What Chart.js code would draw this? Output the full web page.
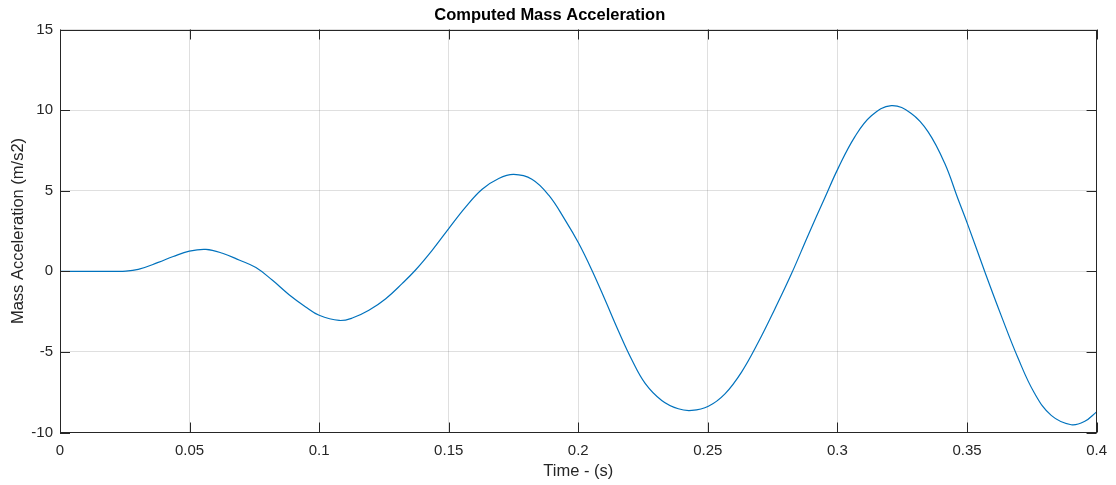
<!DOCTYPE html>
<html>
<head>
<meta charset="utf-8">
<title>Computed Mass Acceleration</title>
<script src="https://cdn.jsdelivr.net/npm/chart.js@4/dist/chart.umd.min.js"></script>
<style>
  html, body { margin: 0; padding: 0; background: #ffffff; }
  #wrap { width: 1116px; height: 485px; position: relative; }
</style>
</head>
<body>
<div id="wrap"><canvas id="chart" width="1116" height="485"></canvas></div>
<script>
// Sample times (s)
const timeS = [
  0, 0.01, 0.02, 0.0242, 0.0302, 0.0379, 0.0437, 0.0499, 0.0563, 0.0627,
  0.0691, 0.0756, 0.082, 0.0884, 0.0948, 0.1, 0.1077, 0.1128, 0.1192, 0.1257,
  0.1321, 0.1372, 0.1436, 0.15, 0.1565, 0.1629, 0.1693, 0.1751, 0.1821, 0.1886,
  0.195, 0.2001, 0.2053, 0.2104, 0.2155, 0.2207, 0.2258, 0.2322, 0.2386, 0.2438,
  0.2502, 0.2566, 0.263, 0.2695, 0.2759, 0.2823, 0.2887, 0.2951, 0.3003, 0.3067,
  0.3131, 0.3208, 0.3285, 0.335, 0.3414, 0.3465, 0.3504, 0.3568, 0.3632, 0.3696,
  0.376, 0.3825, 0.3902, 0.3953, 0.4
];
// Mass acceleration (m/s2)
const accel = [
  0, 0, 0, 0, 0.12, 0.55, 0.92, 1.25, 1.36, 1.12,
  0.70, 0.23, -0.56, -1.45, -2.21, -2.73, -3.05, -2.90, -2.42, -1.70,
  -0.75, 0.08, 1.30, 2.65, 3.98, 5.09, 5.76, 6.01, 5.71, 4.72,
  3.16, 1.75, 0.05, -1.80, -3.70, -5.50, -6.95, -8.01, -8.53, -8.63,
  -8.37, -7.6, -6.25, -4.39, -2.32, -0.14, 2.24, 4.55, 6.40, 8.34,
  9.65, 10.28, 9.79, 8.65, 6.70, 4.50, 2.85, 0.0, -2.75, -5.35,
  -7.55, -8.94, -9.52, -9.32, -8.72
];
// Axis ticks
const xTickValues = [0, 0.05, 0.1, 0.15, 0.2, 0.25, 0.3, 0.35, 0.4];
const xTickLabels = ['0', '0.05', '0.1', '0.15', '0.2', '0.25', '0.3', '0.35', '0.4'];
const yTickValues = [-10, -5, 0, 5, 10, 15];
const yTickLabels = ['-10', '-5', '0', '5', '10', '15'];

const AXIS_COLOR = '#262626';
const GRID_COLOR = 'rgba(38,38,38,0.15)';
const FONT = '"Liberation Sans", Arial, Helvetica, sans-serif';

// Box outline with inward tick marks on all four sides
const boxTicks = {
  id: 'boxTicks',
  afterDatasetsDraw(chart) {
    const { ctx, chartArea: a, scales: { x, y } } = chart;
    const len = 10;
    ctx.save();
    ctx.strokeStyle = AXIS_COLOR;
    ctx.lineWidth = 1;
    ctx.beginPath();
    xTickValues.forEach(v => {
      const px = Math.round(x.getPixelForValue(v)) + 0.5;
      ctx.moveTo(px, a.bottom); ctx.lineTo(px, a.bottom - len);
      ctx.moveTo(px, a.top); ctx.lineTo(px, a.top + len);
    });
    yTickValues.forEach(v => {
      const py = Math.round(y.getPixelForValue(v)) + 0.5;
      ctx.moveTo(a.left, py); ctx.lineTo(a.left + len, py);
      ctx.moveTo(a.right, py); ctx.lineTo(a.right - len, py);
    });
    ctx.stroke();
    ctx.strokeRect(Math.round(a.left) + 0.5, Math.round(a.top) + 0.5,
                   Math.round(a.right - a.left) - 1, Math.round(a.bottom - a.top) - 1);
    ctx.restore();
  }
};

new Chart(document.getElementById('chart'), {
  type: 'line',
  data: {
    datasets: [{
      data: timeS.map((t, i) => ({ x: t, y: accel[i] })),
      borderColor: '#0072BD',
      borderWidth: 1.2,
      pointRadius: 0,
      fill: false,
      tension: 0.4
    }]
  },
  options: {
    responsive: false,
    animation: false,
    layout: { padding: { left: 0, right: 16.5, top: 0, bottom: 0 } },
    plugins: {
      legend: { display: false },
      tooltip: { enabled: false },
      title: {
        display: true,
        text: 'Computed Mass Acceleration',
        color: '#000000',
        font: { family: FONT, size: 16.5, weight: 'bold' },
        padding: { top: 6, bottom: 3.7 }
      }
    },
    scales: {
      x: {
        type: 'linear',
        min: 0,
        max: 0.4,
        afterBuildTicks: s => { s.ticks = xTickValues.map(v => ({ value: v })); },
        afterFit: s => { s.height = 52.5; },
        ticks: {
          color: AXIS_COLOR,
          font: { family: FONT, size: 15 },
          padding: 9,
          maxRotation: 0,
          autoSkip: false,
          callback: v => xTickLabels[xTickValues.indexOf(v)] ?? ''
        },
        grid: { color: GRID_COLOR, drawTicks: false, lineWidth: 1 },
        border: { display: false },
        title: {
          display: true,
          text: 'Time - (s)',
          color: AXIS_COLOR,
          font: { family: FONT, size: 16.5 },
          padding: { top: 0, bottom: 3.4 }
        }
      },
      y: {
        min: -10,
        max: 15,
        afterBuildTicks: s => { s.ticks = yTickValues.map(v => ({ value: v })); },
        afterFit: s => { s.width = 60; },
        ticks: {
          color: AXIS_COLOR,
          font: { family: FONT, size: 15 },
          padding: 7,
          autoSkip: false,
          callback: v => yTickLabels[yTickValues.indexOf(v)] ?? ''
        },
        grid: { color: GRID_COLOR, drawTicks: false, lineWidth: 1 },
        border: { display: false },
        title: {
          display: true,
          text: 'Mass Acceleration (m/s2)',
          color: AXIS_COLOR,
          font: { family: FONT, size: 16.5 },
          padding: { top: 8.4, bottom: 0 }
        }
      }
    }
  },
  plugins: [boxTicks]
});
</script>
</body>
</html>
